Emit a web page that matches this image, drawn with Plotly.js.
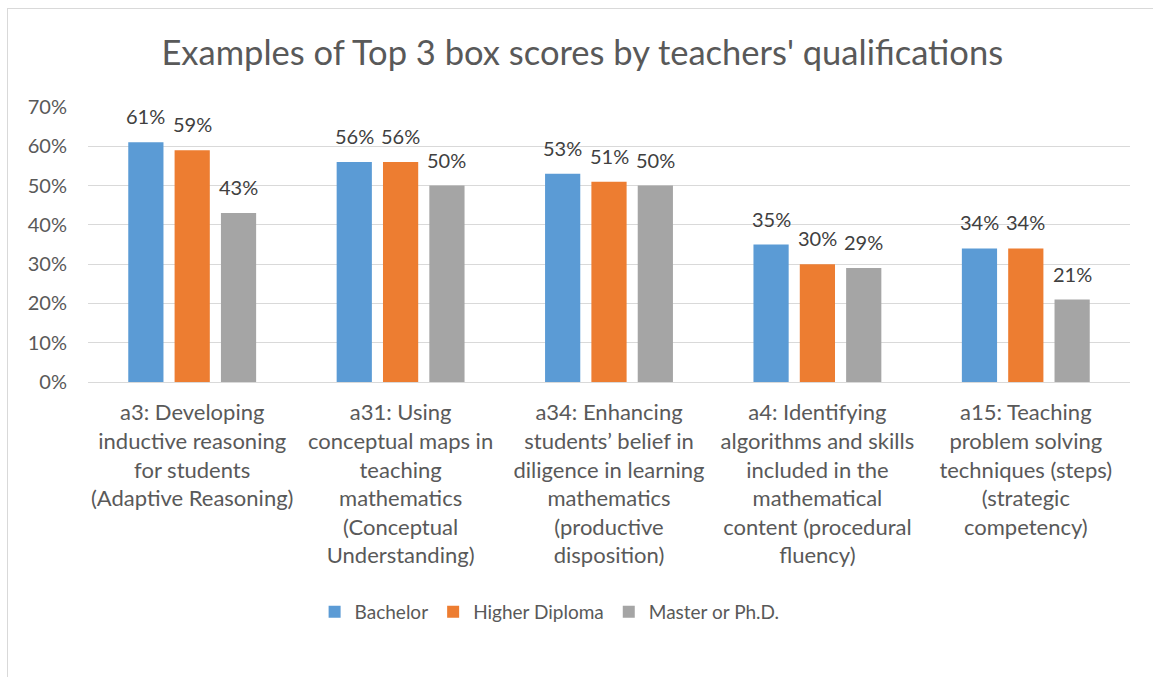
<!DOCTYPE html>
<html>
<head>
<meta charset="utf-8">
<script src="https://cdn.plot.ly/plotly-3.0.1.min.js"></script>
<style>
html,body{margin:0;padding:0;overflow:hidden;background:#fff;}
#chart{position:absolute;left:0;top:0;width:1153px;height:677px;}
#frame{position:absolute;left:7px;top:8px;width:1160px;height:700px;border:1px solid #d9d9d9;pointer-events:none;}
</style>
</head>
<body>
<div id="chart"></div>
<div id="frame"></div>
<script>
var categories = [
  "a3: Developing<br>inductive reasoning<br>for students<br>(Adaptive Reasoning)",
  "a31: Using<br>conceptual maps in<br>teaching<br>mathematics<br>(Conceptual<br>Understanding)",
  "a34: Enhancing<br>students’ belief in<br>diligence in learning<br>mathematics<br>(productive<br>disposition)",
  "a4: Identifying<br>algorithms and skills<br>included in the<br>mathematical<br>content (procedural<br>fluency)",
  "a15: Teaching<br>problem solving<br>techniques (steps)<br>(strategic<br>competency)"
];
var seriesNames = ["Bachelor", "Higher Diploma", "Master or Ph.D."];
var bachelor = [61, 56, 53, 35, 34];
var higherDiploma = [59, 56, 51, 30, 34];
var masterPhd = [43, 50, 50, 29, 21];
var colors = ["#5B9BD5", "#ED7D31", "#A5A5A5"];
var values = [bachelor, higherDiploma, masterPhd];
var tickVals = [0, 10, 20, 30, 40, 50, 60, 70];
var tickText = ["0%", "10%", "20%", "30%", "40%", "50%", "60%", "70%"];

var FONT = "Lato, 'Open Sans', sans-serif";
var BARGAP = 0.333;
var slot = (1 - BARGAP) / values.length;

var traces = values.map(function(v, i){
  return {
    type: "bar",
    name: seriesNames[i],
    x: categories,
    y: v,
    marker: {color: colors[i]},
    hoverinfo: "none"
  };
});

var annotations = [];
values.forEach(function(v, s){
  v.forEach(function(d, i){
    annotations.push({
      xref: "x", yref: "y",
      x: i + (s - (values.length - 1) / 2) * slot,
      y: d,
      text: d + "%",
      showarrow: false,
      xanchor: "center", yanchor: "bottom",
      yshift: 12,
      font: {family: FONT, size: 20, color: "#404040"}
    });
  });
});

var layout = {
  width: 1153, height: 677,
  margin: {l: 88, r: 23, t: 107, b: 295},
  paper_bgcolor: "#fff", plot_bgcolor: "#fff",
  font: {family: FONT, color: "#595959"},
  title: {text: "Examples of Top 3 box scores by teachers' qualifications",
          font: {family: FONT, size: 34.5, color: "#595959"},
          x: 0.505, xanchor: "center", y: 0.922, yanchor: "middle"},
  barmode: "group",
  bargap: BARGAP,
  bargroupgap: 0.24,
  xaxis: {
    type: "category",
    showgrid: false,
    showline: true, linecolor: "#d9d9d9", linewidth: 1,
    ticks: "",
    tickfont: {family: FONT, size: 22, color: "#595959"},
    tickangle: 0,
    ticklabelstandoff: 11,
    automargin: false
  },
  yaxis: {
    range: [0, 70],
    tickmode: "array",
    tickvals: tickVals,
    ticktext: tickText,
    showgrid: true, gridcolor: "#d9d9d9", gridwidth: 1,
    zeroline: false, showline: false, ticks: "",
    tickfont: {family: FONT, size: 20, color: "#595959"},
    ticklabelstandoff: 20,
    automargin: false
  },
  annotations: annotations,
  showlegend: true,
  legend: {orientation: "h", x: 0.443, xanchor: "center", y: -0.836, yanchor: "middle",
           font: {family: FONT, size: 19, color: "#595959"},
           itemwidth: 30, traceorder: "normal"}
};

Plotly.newPlot("chart", traces, layout, {displayModeBar: false, staticPlot: true});
</script>
</body>
</html>
